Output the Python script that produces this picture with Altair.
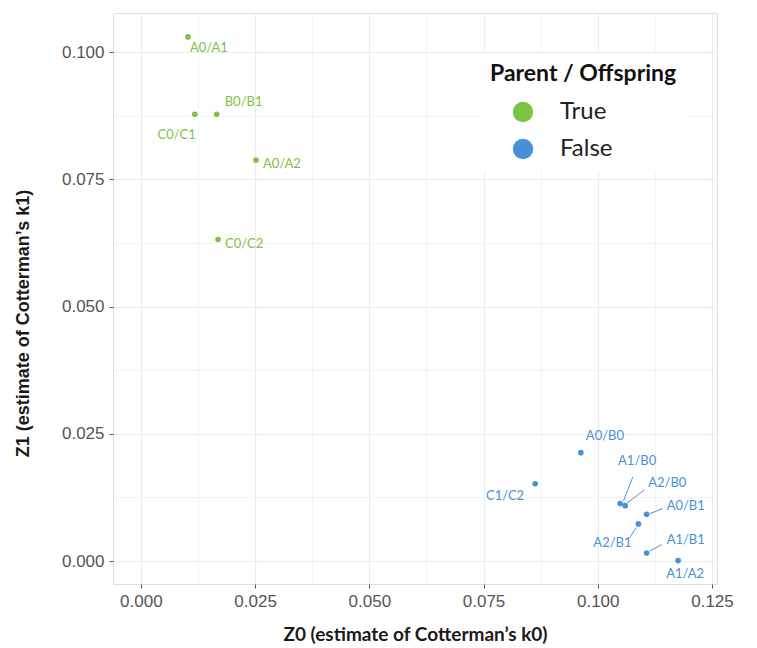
import altair as alt
import pandas as pd

# ---- data ----
labels = ["A0/A1", "C0/C1", "B0/B1", "A0/A2", "C0/C2",
          "A0/B0", "C1/C2", "A1/B0", "A2/B0", "A0/B1", "A2/B1", "A1/B1", "A1/A2"]
z0 = [0.0103, 0.0118, 0.0166, 0.0252, 0.0169,
      0.0963, 0.0863, 0.1049, 0.1060, 0.1107, 0.1089, 0.1107, 0.1176]
z1 = [0.1030, 0.0878, 0.0878, 0.0788, 0.0632,
      0.0213, 0.0152, 0.0113, 0.0109, 0.0092, 0.0073, 0.0016, 0.0001]
parent_offspring = ["True"] * 5 + ["False"] * 8

x_ticks = [i * 0.0125 for i in range(11)]
y_ticks = [i * 0.0125 for i in range(9)]

df = pd.DataFrame({"label": labels, "z0": z0, "z1": z1, "po": parent_offspring})

GREEN = "#7dc243"
BLUE = "#4a90d9"

# label placement (pixel offsets, like ggrepel)
label_style = {
    "A0/A1": dict(dx=2, dy=11, align="left"),
    "B0/B1": dict(dx=8, dy=-12, align="left"),
    "C0/C1": dict(dx=1, dy=21, align="right"),
    "A0/A2": dict(dx=7, dy=4, align="left"),
    "C0/C2": dict(dx=7, dy=5, align="left"),
    "A0/B0": dict(dx=5, dy=-17, align="left"),
    "C1/C2": dict(dx=-11, dy=12, align="right"),
    "A1/B0": dict(dx=17, dy=-43, align="center"),
    "A2/B0": dict(dx=23, dy=-23, align="left"),
    "A0/B1": dict(dx=20, dy=-8, align="left"),
    "A2/B1": dict(dx=-26, dy=19, align="center"),
    "A1/B1": dict(dx=20, dy=-13, align="left"),
    "A1/A2": dict(dx=7, dy=13, align="center"),
}
leader_style = {
    "A1/B0": (3.3, -2.6, 12.7, -26.6),
    "A2/B0": (1.7, -2.4, 19.3, -15.7),
    "A0/B1": (3.3, -0.7, 16, -5.7),
    "A2/B1": (-2.3, 3.7, -9, 14.3),
    "A1/B1": (3.3, -2, 15, -8.4),
}

minor_test = "round(datum.value*80) % 2 != 0"

x_scale = alt.Scale(domain=[-0.0061, 0.1261], nice=False, zero=False)
y_scale = alt.Scale(domain=[-0.0045, 0.1077], nice=False, zero=False)
color_scale = alt.Scale(domain=["True", "False"], range=[GREEN, BLUE])

x_axis = alt.Axis(
    values=x_ticks,
    labelExpr="round(datum.value*80) % 2 == 0 ? format(datum.value, '.3f') : ''",
    title="Z0 (estimate of Cotterman\u2019s k0)",
    gridColor="#ebebeb",
    gridWidth={"condition": {"test": minor_test, "value": 0.6}, "value": 1.1},
    tickOpacity={"condition": {"test": minor_test, "value": 0}, "value": 1},
    tickColor="#555555", tickSize=4, domain=False,
    labelFont="Liberation Sans", labelFontSize=17, labelColor="#555555", labelPadding=5,
    titleFont="Lato", titleFontSize=19, titleFontWeight="bold", titleColor="#1a1a1a",
    titlePadding=16,
)
y_axis = alt.Axis(
    values=y_ticks,
    labelExpr="round(datum.value*80) % 2 == 0 ? format(datum.value, '.3f') : ''",
    title="Z1 (estimate of Cotterman\u2019s k1)",
    gridColor="#ebebeb",
    gridWidth={"condition": {"test": minor_test, "value": 0.6}, "value": 1.1},
    tickOpacity={"condition": {"test": minor_test, "value": 0}, "value": 1},
    tickColor="#555555", tickSize=4, domain=False,
    labelFont="Liberation Sans", labelFontSize=17, labelColor="#555555", labelPadding=5,
    titleFont="Liberation Sans", titleFontSize=18, titleFontWeight="bold", titleColor="#1a1a1a",
    titleAngle=-90, titleBaseline="middle", titleX=-90, titleY=310,
)

base = alt.Chart(df)

points = base.mark_circle(size=32, opacity=1).encode(
    x=alt.X("z0:Q", scale=x_scale, axis=x_axis),
    y=alt.Y("z1:Q", scale=y_scale, axis=y_axis),
    color=alt.Color(
        "po:N", scale=color_scale,
        legend=alt.Legend(
            title="Parent / Offspring", orient="none", legendX=367, legendY=40,
            titleFont="Lato", titleFontSize=23, titleFontWeight="bold", titleColor="#111111",
            titleLimit=400, labelLimit=300,
            labelFont="Lato", labelFontSize=24, labelColor="#222222",
            symbolType="circle", symbolSize=415, symbolStrokeWidth=0,
            symbolOffset=21, labelOffset=25, rowPadding=13, titlePadding=14,
            fillColor="white", padding=10,
        ),
    ),
)

layers = [points]
for lab, st in label_style.items():
    layers.append(
        base.transform_filter(alt.datum.label == lab)
        .mark_text(font="Lato", fontSize=13, baseline="middle",
                   align=st["align"], dx=st["dx"], dy=st["dy"])
        .encode(x="z0:Q", y="z1:Q", text="label:N",
                color=alt.Color("po:N", scale=color_scale, legend=None))
    )
for lab, (ox, oy, ex, ey) in leader_style.items():
    layers.append(
        base.transform_filter(alt.datum.label == lab)
        .mark_rule(strokeWidth=1, xOffset=ox, yOffset=oy, x2Offset=ex, y2Offset=ey)
        .encode(x="z0:Q", y="z1:Q", x2="z0:Q", y2="z1:Q",
                color=alt.Color("po:N", scale=color_scale, legend=None))
    )

chart = alt.layer(*layers).properties(
    width=604, height=571,
    autosize=alt.AutoSizeParams(type="none"),
    padding={"left": 105, "top": 5, "right": 24, "bottom": 63},
).configure_view(stroke="#8a8a8a", strokeWidth=1.2).configure(background="white")

chart.save("out.html", embed_options={"renderer": "svg", "actions": False})
